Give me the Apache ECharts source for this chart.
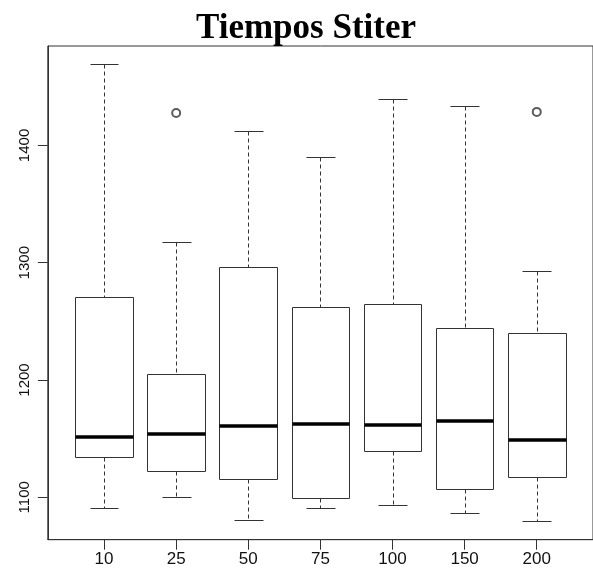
<!DOCTYPE html>
<html>
<head>
<meta charset="utf-8">
<script src="https://cdn.jsdelivr.net/npm/echarts@6/dist/echarts.min.js"></script>
<style>
  html, body { margin: 0; padding: 0; background: #fff; }
  #chart { width: 593px; height: 574px; }
</style>
</head>
<body>
<div id="chart"></div>
<script>
// Group labels along the x axis
const categories = ['10', '25', '50', '75', '100', '150', '200'];
// Five-number summaries per group (lower whisker, Q1, median, Q3, upper whisker)
const whiskerLow  = [1091.1, 1100.3, 1080.6, 1091.1, 1093.4, 1086.6, 1079.8];
const q1          = [1134.6, 1122.4, 1115.3, 1099.7, 1139.2, 1107.3, 1117.6];
const median      = [1151.4, 1154.0, 1161.1, 1162.8, 1161.4, 1165.3, 1148.9];
const q3          = [1270.5, 1205.4, 1296.4, 1262.5, 1264.6, 1244.4, 1240.4];
const whiskerHigh = [1469.5, 1317.4, 1412.6, 1390.4, 1439.6, 1433.4, 1292.7];
// Outlying points: group label and value
const outlierGroups = ['25', '200'];
const outlierValues = [1427.7, 1428.6];
// Tick labels
const yTicks = [1100, 1200, 1300, 1400];

const positions = categories.map((c, i) => i + 1);
const boxData = categories.map((c, i) => [
  positions[i], whiskerLow[i], q1[i], median[i], q3[i], whiskerHigh[i]
]);
const outlierData = outlierGroups.map((g, i) => [categories.indexOf(g) + 1, outlierValues[i]]);

const LINE = '#333';
const px = v => Math.round(v) + 0.5;

function renderBox(params, api) {
  const x = api.value(0);
  const lo = api.coord([x, api.value(1)]);
  const b1 = api.coord([x, api.value(2)]);
  const md = api.coord([x, api.value(3)]);
  const b3 = api.coord([x, api.value(4)]);
  const hi = api.coord([x, api.value(5)]);
  const boxW = api.size([0.8, 0])[0];
  const capW = boxW / 2;
  const cx = px(lo[0]);
  const left = px(lo[0] - boxW / 2);
  const right = px(lo[0] + boxW / 2);
  const dash = { stroke: LINE, lineWidth: 1, lineDash: [4, 3] };
  const solid = { stroke: LINE, lineWidth: 1 };
  return {
    type: 'group',
    children: [
      { type: 'line', shape: { x1: cx, y1: px(hi[1]), x2: cx, y2: px(b3[1]) }, style: dash },
      { type: 'line', shape: { x1: cx, y1: px(b1[1]), x2: cx, y2: px(lo[1]) }, style: dash },
      { type: 'line', shape: { x1: px(lo[0] - capW / 2), y1: px(hi[1]), x2: px(lo[0] + capW / 2), y2: px(hi[1]) }, style: solid },
      { type: 'line', shape: { x1: px(lo[0] - capW / 2), y1: px(lo[1]), x2: px(lo[0] + capW / 2), y2: px(lo[1]) }, style: solid },
      { type: 'rect', shape: { x: left, y: px(b3[1]), width: right - left, height: px(b1[1]) - px(b3[1]) },
        style: { fill: '#fff', stroke: LINE, lineWidth: 1 } },
      { type: 'line', shape: { x1: left, y1: Math.round(md[1]), x2: right, y2: Math.round(md[1]) },
        style: { stroke: '#000', lineWidth: 3.5 } }
    ]
  };
}

const chart = echarts.init(document.getElementById('chart'), null, { renderer: 'canvas' });
chart.setOption({
  animation: false,
  backgroundColor: '#fff',
  graphic: [{
    type: 'text', x: 306, y: 29,
    style: {
      text: 'Tiempos Stiter',
      font: 'bold 35px "Liberation Serif"',
      fill: '#000',
      align: 'center', verticalAlign: 'middle',
      textAlign: 'center', textVerticalAlign: 'middle'
    }
  }],
  grid: {
    left: 47.8, top: 46, width: 549.6, bottom: 34.3,
    show: true, borderColor: LINE, borderWidth: 1, backgroundColor: 'transparent',
    containLabel: false
  },
  xAxis: {
    type: 'value', min: 0.22, max: 7.78,
    splitLine: { show: false },
    axisLine: { show: true, onZero: false, lineStyle: { color: LINE } },
    axisTick: { show: true, length: 10, customValues: positions, lineStyle: { color: LINE } },
    axisLabel: {
      customValues: positions, margin: 11,
      formatter: v => categories[Math.round(v) - 1],
      fontFamily: 'Liberation Sans', fontSize: 17, color: '#111'
    }
  },
  yAxis: {
    type: 'value', min: 1063.8, max: 1484.8,
    splitLine: { show: false },
    axisLine: { show: true, lineStyle: { color: LINE } },
    axisTick: { show: true, length: 10, customValues: yTicks, lineStyle: { color: LINE } },
    axisLabel: {
      customValues: yTicks, rotate: 90, margin: 15,
      formatter: v => String(v),
      fontFamily: 'Liberation Sans', fontSize: 15, color: '#111'
    }
  },
  series: [
    {
      type: 'custom',
      renderItem: renderBox,
      data: boxData,
      encode: { x: 0, y: [1, 2, 3, 4, 5] },
      z: 2
    },
    {
      type: 'scatter',
      data: outlierData,
      symbol: 'emptyCircle',
      symbolSize: 8,
      itemStyle: { color: LINE, borderColor: LINE, borderWidth: 1 },
      z: 3
    }
  ]
});
</script>
</body>
</html>
